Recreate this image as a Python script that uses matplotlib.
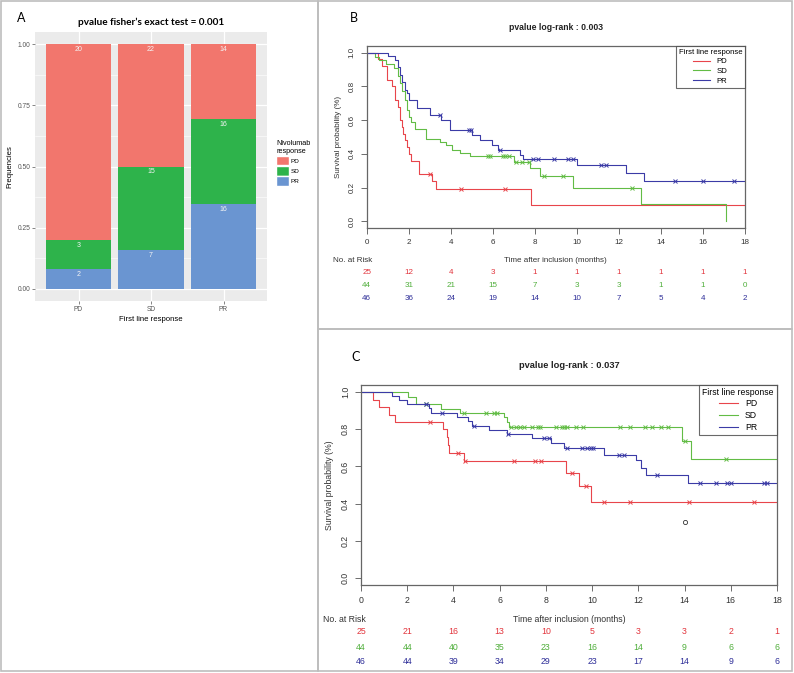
import numpy as np
import matplotlib
matplotlib.use('Agg')
import matplotlib.pyplot as plt
from matplotlib.patches import Rectangle

W, H = 794, 673

# ---- panel A data (counts) ----
first_line = ['PD', 'SD', 'PR']
nivo_pd = [20, 22, 14]
nivo_sd = [3, 15, 16]
nivo_pr = [2, 7, 16]

# ---- panel B: KM steps (time, survival after step) and censor times ----
pd_b_t = [0.55, 0.75, 0.95, 1.2, 1.35, 1.5, 1.6, 1.7, 1.75, 1.82, 1.9, 2.0, 2.1, 2.5, 3.1, 3.3, 7.8]
pd_b_s = [0.96, 0.92, 0.84, 0.80, 0.72, 0.68, 0.60, 0.56, 0.52, 0.48, 0.44, 0.40, 0.36, 0.28, 0.24, 0.19, 0.095]
pd_b_cens = [3.0, 4.5, 6.6]
sd_b_t = [0.4, 0.6, 0.9, 1.3, 1.5, 1.6, 1.7, 1.8, 1.9, 2.0, 2.1, 2.3, 2.8, 3.5, 3.75, 4.05, 4.45, 4.9, 7.0, 7.75, 8.25, 9.8, 13.05, 17.1]
sd_b_s = [0.977, 0.955, 0.932, 0.91, 0.864, 0.82, 0.77, 0.72, 0.66, 0.62, 0.59, 0.55, 0.49, 0.47, 0.45, 0.425, 0.405, 0.385, 0.355, 0.315, 0.27, 0.20, 0.105, 0.0]
sd_b_cens = [5.75, 5.85, 6.5, 6.6, 6.75, 7.1, 7.4, 7.7, 8.45, 9.35, 12.6]
pr_b_t = [1.0, 1.35, 1.5, 1.6, 1.7, 1.8, 1.9, 2.0, 2.4, 3.0, 3.55, 3.95, 5.0, 5.4, 5.95, 6.25, 7.3, 7.45, 10.0, 12.35, 13.2]
pr_b_s = [0.978, 0.957, 0.913, 0.87, 0.826, 0.78, 0.76, 0.717, 0.674, 0.63, 0.60, 0.543, 0.513, 0.483, 0.454, 0.424, 0.395, 0.37, 0.335, 0.286, 0.237]
pr_b_cens = [3.5, 4.85, 4.95, 6.35, 7.9, 8.15, 8.9, 9.6, 9.8, 11.15, 11.4, 14.65, 16.0, 17.5]
risk_b_pd = [25, 12, 4, 3, 1, 1, 1, 1, 1, 1]
risk_b_sd = [44, 31, 21, 15, 7, 3, 3, 1, 1, 0]
risk_b_pr = [46, 36, 24, 19, 14, 10, 7, 5, 4, 2]

# ---- panel C ----
pd_c_t = [0.5, 0.8, 1.2, 1.45, 3.55, 3.7, 3.75, 3.8, 4.45, 8.85, 9.45, 9.95]
pd_c_s = [0.96, 0.92, 0.88, 0.84, 0.80, 0.76, 0.715, 0.67, 0.63, 0.563, 0.495, 0.41]
pd_c_cens = [3.0, 4.2, 4.5, 6.6, 7.55, 7.8, 9.15, 9.75, 10.5, 11.65, 14.2, 17.0]
sd_c_t = [2.05, 2.4, 3.45, 4.3, 6.2, 6.3, 6.4, 13.9, 14.3]
sd_c_s = [0.977, 0.935, 0.908, 0.886, 0.865, 0.84, 0.812, 0.735, 0.638]
sd_c_cens = [2.8, 4.45, 5.4, 5.75, 5.9, 6.5, 6.7, 6.9, 7.05, 7.4, 7.65, 7.75, 8.45, 8.7, 8.8, 8.9, 9.3, 9.6, 11.2, 11.65, 12.3, 12.6, 13.0, 13.3, 14.0, 15.8]
pr_c_t = [1.35, 1.65, 2.0, 2.95, 3.05, 4.15, 4.65, 4.8, 5.55, 6.3, 7.4, 8.2, 8.8, 10.5, 11.9, 12.1, 12.35, 14.15]
pr_c_s = [0.978, 0.956, 0.935, 0.913, 0.89, 0.867, 0.843, 0.82, 0.797, 0.777, 0.752, 0.727, 0.698, 0.664, 0.636, 0.59, 0.553, 0.513]
pr_c_cens = [2.8, 3.5, 4.9, 6.35, 7.9, 8.15, 8.9, 9.55, 9.8, 9.95, 10.05, 11.15, 11.4, 12.8, 14.65, 15.35, 15.85, 16.0, 17.45, 17.55]
risk_c_pd = [25, 21, 16, 13, 10, 5, 3, 3, 2, 1]
risk_c_sd = [44, 44, 40, 35, 23, 16, 14, 9, 6, 6]
risk_c_pr = [46, 44, 39, 34, 29, 23, 17, 14, 9, 6]

risk_times = [0, 2, 4, 6, 8, 10, 12, 14, 16, 18]

col_a = {'PD': '#F2766D', 'SD': '#2EB34B', 'PR': '#6A95D1'}
km_col = {'PD': '#E8454B', 'SD': '#62BC45', 'PR': '#3B3BA6'}
risk_col = {'PD': '#E2343C', 'SD': '#4FAE3A', 'PR': '#2D2D98'}

SANS = ['Liberation Sans', 'DejaVu Sans']
CAL = ['Lato', 'DejaVu Sans']


def ax_rect(x0, y0, x1, y1):
    return [x0 / W, 1 - y1 / H, (x1 - x0) / W, (y1 - y0) / H]


fig = plt.figure(figsize=(W / 100, H / 100), dpi=100)

# panel frames
for (x0, y0, x1, y1) in [(1, 1, 318, 671), (318, 1, 792, 329), (318, 329, 792, 671)]:
    fig.patches.append(Rectangle((x0 / W, 1 - y1 / H), (x1 - x0) / W, (y1 - y0) / H,
                                 transform=fig.transFigure, fill=False, ec='#BDBDBD', lw=1.2))

# ================= panel A =================
axA = fig.add_axes(ax_rect(35, 32, 267, 301))
axA.set_facecolor('#EBEBEB')
tot = np.array(nivo_pd) + np.array(nivo_sd) + np.array(nivo_pr)
f_pr = np.array(nivo_pr) / tot
f_sd = np.array(nivo_sd) / tot
f_pd = np.array(nivo_pd) / tot
xs = np.arange(1, 4)
for yv in [0.125, 0.375, 0.625, 0.875]:
    axA.axhline(yv, color='white', lw=0.4, zorder=0)
for yv in [0, 0.25, 0.5, 0.75, 1.0]:
    axA.axhline(yv, color='white', lw=0.9, zorder=0)
for xv in xs:
    axA.axvline(xv, color='white', lw=0.9, zorder=0)
axA.bar(xs, f_pr, width=0.9, color=col_a['PR'], zorder=2)
axA.bar(xs, f_sd, width=0.9, bottom=f_pr, color=col_a['SD'], zorder=2)
axA.bar(xs, f_pd, width=0.9, bottom=f_pr + f_sd, color=col_a['PD'], zorder=2)
for i in range(3):
    tops = [f_pr[i], f_pr[i] + f_sd[i], 1.0]
    for top, n in zip(tops, [nivo_pr[i], nivo_sd[i], nivo_pd[i]]):
        axA.text(xs[i], top - 0.022, str(n), ha='center', va='center', color='#F4F4F4',
                 fontsize=5, family=SANS, zorder=3)
axA.set_xlim(0.4, 3.6)
axA.set_ylim(-0.05, 1.05)
axA.set_xticks(xs)
axA.set_xticklabels(first_line)
axA.set_yticks([0, 0.25, 0.5, 0.75, 1.0])
axA.set_yticklabels(['0.00', '0.25', '0.50', '0.75', '1.00'])
axA.tick_params(labelsize=4.8, labelcolor='#555555', color='#555555', length=2, width=0.5, pad=1.5)
for lab in axA.get_xticklabels() + axA.get_yticklabels():
    lab.set_family(SANS)
for sp in axA.spines.values():
    sp.set_visible(False)
axA.set_ylabel('Frequencies', fontsize=5.6, family=SANS, labelpad=3)
axA.set_xlabel('First line response', fontsize=5.6, family=SANS, labelpad=2)
fig.text(17 / W, 1 - 18 / H, 'A', fontsize=9, family=CAL, va='center', ha='left')
fig.text(151 / W, 1 - 22 / H, 'pvalue fisher\u2019s exact test = 0.001', fontsize=7.2,
         fontweight='bold', family=CAL, ha='center', va='center')
handles = [Rectangle((0, 0), 1, 1, fc=col_a[k], ec='white') for k in first_line]
legA = fig.legend(handles, first_line, title='Nivolumab\nresponse', loc='upper left',
                  bbox_to_anchor=(275 / W, 1 - 139 / H), frameon=False,
                  title_fontsize=5.2, handlelength=2.0, handleheight=2.0, handletextpad=0.3,
                  labelspacing=0.05, borderaxespad=0, borderpad=0.2,
                  prop={'family': SANS, 'size': 4.6})
legA.get_title().set_family(SANS)
legA._legend_box.align = 'left'


# ================= KM helper =================
def km_panel(rect, series, risks, title, title_y, label, label_xy, fs, leg_fs, nar_x, risk_ys, xlab_y):
    ax = fig.add_axes(ax_rect(*rect))
    for name, t, s, cens in series:
        t = np.array(t)
        s = np.array(s)
        xx = np.r_[0, t]
        yy = np.r_[1, s]
        if s[-1] > 0:
            xx = np.r_[xx, 18]
            yy = np.r_[yy, s[-1]]
        ax.step(xx, yy, where='post', color=km_col[name], lw=0.8, label=name)
        c = np.array(cens)
        idx = np.searchsorted(t, c, side='right')
        cs = np.r_[1, s][idx]
        ax.plot(c, cs, ls='none', marker='x', ms=2.6, mew=0.7, color=km_col[name])
    ax.set_xlim(0, 18)
    ax.set_ylim(-0.04, 1.04)
    ax.set_xticks(range(0, 19, 2))
    ax.set_yticks([0, 0.2, 0.4, 0.6, 0.8, 1.0])
    ax.set_yticklabels(['0.0', '0.2', '0.4', '0.6', '0.8', '1.0'], rotation=90, va='center')
    ax.tick_params(labelsize=fs, labelcolor='#333333', color='#555555', length=4, width=0.6, pad=4)
    for lab in ax.get_xticklabels() + ax.get_yticklabels():
        lab.set_family(SANS)
    for sp in ax.spines.values():
        sp.set_color('#666666')
        sp.set_linewidth(0.9)
    ax.set_ylabel('Survival probability (%)', fontsize=fs, family=SANS, color='#333333', labelpad=5)
    leg = ax.legend(title='First line response', loc='upper right',
                    title_fontsize=leg_fs, frameon=True, fancybox=False, borderaxespad=0,
                    handlelength=2.2, handletextpad=0.8, labelspacing=0.3, borderpad=0.35,
                    prop={'family': SANS, 'size': leg_fs})
    leg.get_frame().set_edgecolor('#444444')
    leg.get_frame().set_linewidth(0.8)
    leg.get_title().set_family(SANS)
    for ln in leg.get_lines():
        ln.set_linewidth(0.8)
    cx = (rect[0] + rect[2]) / 2
    fig.text(cx / W, 1 - title_y / H, title, fontsize=fs + 0.4, fontweight='bold',
             family=SANS, ha='center', va='center', color='#222222')
    fig.text(label_xy[0] / W, 1 - label_xy[1] / H, label, fontsize=9, family=CAL, va='center')
    fig.text(nar_x / W, 1 - xlab_y / H, 'No. at Risk', fontsize=fs, family=SANS,
             va='center', color='#333333')
    fig.text(cx / W, 1 - xlab_y / H, 'Time after inclusion (months)', fontsize=fs,
             family=SANS, ha='center', va='center', color='#333333')
    x0, x1 = rect[0], rect[2]
    for name, vals, ry in zip(['PD', 'SD', 'PR'], risks, risk_ys):
        for tt, v in zip(risk_times, vals):
            px = x0 + (x1 - x0) * tt / 18
            fig.text(px / W, 1 - ry / H, str(v), fontsize=fs, family=SANS,
                     ha='center', va='center', color=risk_col[name])
    return ax


axB = km_panel((366.7, 45.9, 745, 228.2),
               [('PD', pd_b_t, pd_b_s, pd_b_cens), ('SD', sd_b_t, sd_b_s, sd_b_cens),
                ('PR', pr_b_t, pr_b_s, pr_b_cens)],
               [risk_b_pd, risk_b_sd, risk_b_pr], 'pvalue log-rank : 0.003', 28,
               'B', (350, 18), 5.8, 5.6, 333, [272, 285, 298], 260)

axC = km_panel((361, 384.9, 777, 585.1),
               [('PD', pd_c_t, pd_c_s, pd_c_cens), ('SD', sd_c_t, sd_c_s, sd_c_cens),
                ('PR', pr_c_t, pr_c_s, pr_c_cens)],
               [risk_c_pd, risk_c_sd, risk_c_pr], 'pvalue log-rank : 0.037', 365,
               'C', (351, 357), 6.3, 6.2, 323, [632, 647, 662], 620)
axC.plot([14], [0.3], ls='none', marker='o', ms=3, mfc='none', mec='#333333', mew=0.6)

fig.savefig('out.png', dpi=100)
